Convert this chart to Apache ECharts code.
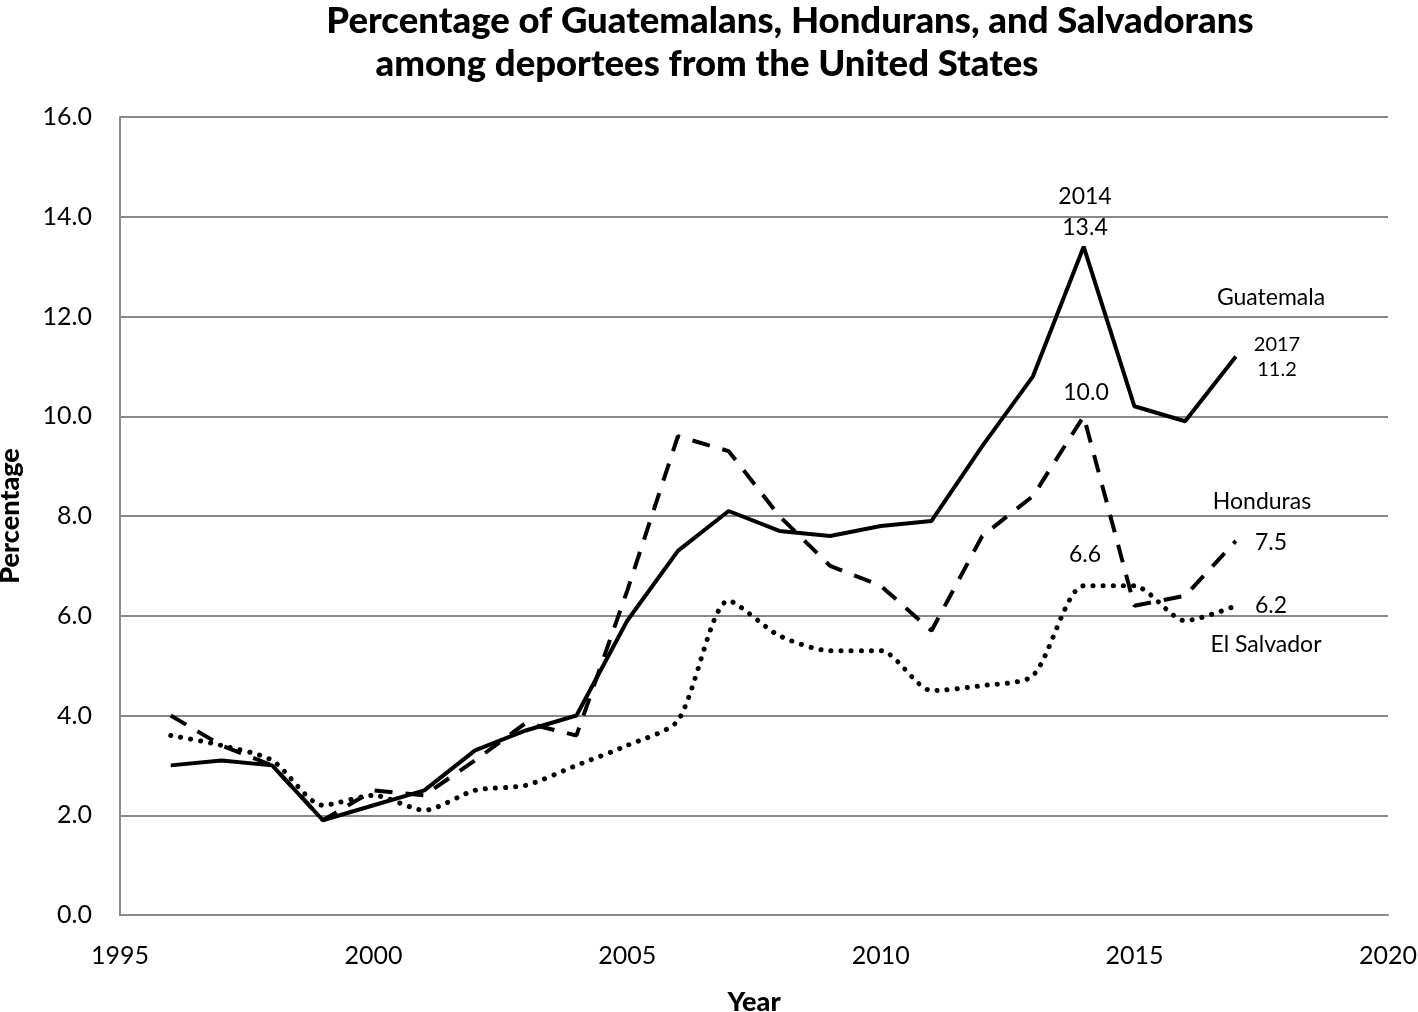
<!DOCTYPE html>
<html><head><meta charset="utf-8">
<script src="https://cdn.jsdelivr.net/npm/echarts@6/dist/echarts.min.js"></script>
<style>html,body{margin:0;padding:0;background:#fff}#c{width:1418px;height:1012px}</style>
</head><body><div id="c"></div>
<script>
const years = [1996,1997,1998,1999,2000,2001,2002,2003,2004,2005,2006,2007,2008,2009,2010,2011,2012,2013,2014,2015,2016,2017];
const guatemala = [3.0,3.1,3.0,1.9,2.2,2.5,3.3,3.7,4.0,5.9,7.3,8.1,7.7,7.6,7.8,7.9,9.4,10.8,13.4,10.2,9.9,11.2];
const honduras  = [4.0,3.4,3.0,1.9,2.5,2.4,3.1,3.85,3.6,6.5,9.6,9.3,8.0,7.0,6.6,5.7,7.6,8.4,10.0,6.2,6.4,7.5];
const elsalvador= [3.6,3.4,3.1,2.2,2.4,2.1,2.5,2.6,3.0,3.4,3.9,6.3,5.6,5.3,5.3,4.5,4.6,4.8,6.6,6.6,5.9,6.2];
const yTicks = [0,2,4,6,8,10,12,14,16];
const xTicks = [1995,2000,2005,2010,2015,2020];

const FONT = 'Lato';
function pairs(vals){ return years.map((y,i)=>[y, vals[i]]); }

const chart = echarts.init(document.getElementById('c'));
const annos = [
  {x:1085,y:197,t:'2014',s:23},{x:1085,y:228,t:'13.4',s:23},
  {x:1271,y:298,t:'Guatemala',s:23},
  {x:1277,y:345,t:'2017',s:20},{x:1277,y:370,t:'11.2',s:20},
  {x:1086,y:393,t:'10.0',s:23},
  {x:1262,y:502,t:'Honduras',s:23},
  {x:1271,y:543,t:'7.5',s:23},
  {x:1085,y:555,t:'6.6',s:23},
  {x:1271,y:606,t:'6.2',s:23},
  {x:1266,y:645,t:'El Salvador',s:23}
];
chart.setOption({
  animation:false,
  backgroundColor:'#fff',
  title:[
    {text:'Percentage of Guatemalans, Hondurans, and Salvadorans', left:785, top:-2, textAlign:'center',
     textStyle:{fontFamily:FONT,fontWeight:900,fontSize:36.5,color:'#000'}},
    {text:'among deportees from the United States', left:702, top:41, textAlign:'center',
     textStyle:{fontFamily:FONT,fontWeight:900,fontSize:36.5,color:'#000'}}
  ],
  grid:{left:120,right:30,top:117,bottom:97,containLabel:false,outerBoundsMode:'none'},
  xAxis:{type:'value',min:1995,max:2020,interval:5,
    name:'Year',nameLocation:'middle',nameGap:74,
    nameTextStyle:{fontFamily:FONT,fontWeight:900,fontSize:27,color:'#000'},
    axisLine:{show:true,lineStyle:{color:'#8c8c8c',width:2}},
    axisTick:{show:false},
    splitLine:{show:false},
    axisLabel:{fontFamily:FONT,fontSize:25,color:'#000',margin:28,formatter:v=>String(v)}},
  yAxis:{type:'value',min:0,max:16,interval:2,
    name:'Percentage',nameLocation:'middle',nameGap:96,
    nameTextStyle:{fontFamily:FONT,fontWeight:900,fontSize:27,color:'#000'},
    axisLine:{show:true,lineStyle:{color:'#8c8c8c',width:2}},
    axisTick:{show:false},
    splitLine:{show:true,lineStyle:{color:'#888',width:2}},
    axisLabel:{fontFamily:FONT,fontSize:25,color:'#000',margin:28,formatter:v=>v.toFixed(1)}},
  series:[
    {name:'Guatemala',type:'line',data:pairs(guatemala),symbol:'none',
     lineStyle:{color:'#000',width:4,type:'solid'},z:3},
    {name:'Honduras',type:'line',data:pairs(honduras),symbol:'none',
     lineStyle:{color:'#000',width:4,type:[18,13]},z:2},
    {name:'El Salvador',type:'line',data:pairs(elsalvador),symbol:'none',smooth:0.25,
     lineStyle:{color:'#000',width:5,type:[0.1,10],cap:'round'},z:1}
  ],
  graphic: annos.map((a,i)=>({id:'g'+i,type:'text',x:a.x,y:a.y,style:{text:a.t,fontFamily:FONT,fontSize:a.s,fill:'#000',textAlign:'center',textVerticalAlign:'middle'}}))
});
</script></body></html>
